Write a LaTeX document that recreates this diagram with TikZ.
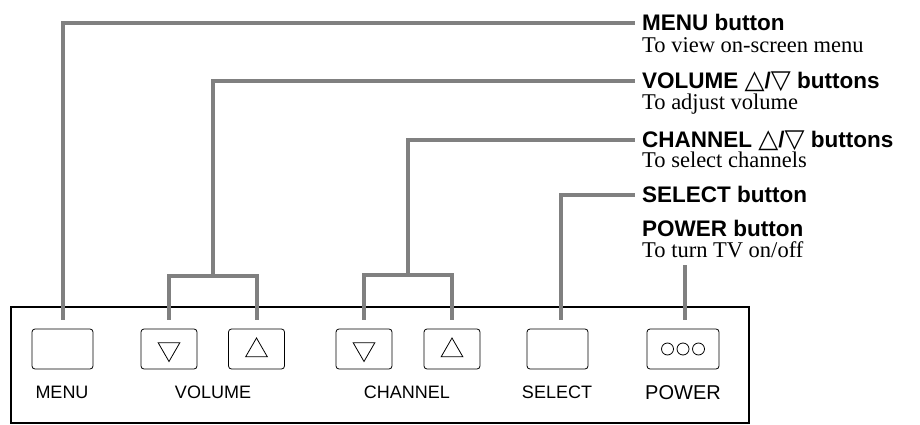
\documentclass[tikz,border=0pt]{standalone}
\usepackage{fontspec}
\setmainfont{Liberation Serif}
\setsansfont{Liberation Sans}
\newfontfamily\trifont{DejaVu Sans}
\usetikzlibrary{shapes.geometric}
\definecolor{Lc}{RGB}{128, 128, 128}

\begin{document}
\begin{tikzpicture}[x=1pt, y=-1pt,
    btn/.style={draw, line width=0.8pt, rounded corners=3pt, minimum height=40pt, inner sep=0pt},
    tri/.style={draw, line width=0.8pt, regular polygon, regular polygon sides=3, minimum size=25pt, inner sep=0pt},
    dot/.style={draw, line width=0.8pt, circle, minimum size=12pt, inner sep=0pt},
    lead/.style={draw=Lc, line width=4pt},
    tolabel/.style={lead, shorten >=7pt},
    title/.style={font=\sffamily\bfseries\fontsize{22.5}{26}\selectfont, anchor=west, inner sep=0pt, text height=15pt, text depth=0pt},
    note/.style={font=\fontsize{22.5}{26}\selectfont, anchor=base west, inner sep=0pt},
    btncap/.style={font=\sffamily\fontsize{18}{20}\selectfont, anchor=base}]
  \useasboundingbox (0,0) rectangle (920,425);
  \def\trisym#1{{\trifont\fontsize{26}{26}\selectfont#1}}

  % Front panel
  \draw[line width=1.5pt] (11,307) rectangle (749,423);

  % Buttons
  \foreach \n/\x/\w in {menu/62.5/61pt, vdn/169/56pt, vup/256.5/56pt, cdn/364/56pt,
                        cup/452/56pt, sel/557.5/61pt, pwr/683/72pt}{
    \node[btn, minimum width=\w] (\n) at (\x,349) {};
  }
  \node[tri, shape border rotate=180] (vdnT) at (vdn.center) {};
  \node[tri, yshift=-1.5pt] (vupT) at (vup.center) {};
  \node[tri, shape border rotate=180] (cdnT) at (cdn.center) {};
  \node[tri, yshift=-1.5pt] (cupT) at (cup.center) {};
  \foreach \k in {-1,0,1}{
    \node[dot] (pd\k) at ([xshift=\k*15.5pt]pwr.center) {};
  }

  % Captions
  \node[btncap] (menuL) at (62,398) {MENU};
  \node[btncap] (volL) at (213,398) {VOLUME};
  \node[btncap] (chL) at (407,398) {CHANNEL};
  \node[btncap] (selL) at (557,398) {SELECT};
  \node[btncap, font=\sffamily\fontsize{20}{22}\selectfont] (pwrL) at (683,399) {POWER};

  % Labels
  \node[title] (menuT) at (642,23) {MENU button};
  \node[note] (menuN) at ([yshift=-22pt]menuT.base west) {To view on-screen menu};
  \node[title] (volT) at (642,81) {VOLUME \trisym{△}/\trisym{▽} buttons};
  \node[note] (volN) at ([yshift=-21pt]volT.base west) {To adjust volume};
  \node[title] (chT) at (642,140) {CHANNEL \trisym{△}/\trisym{▽} buttons};
  \node[note] (chN) at ([yshift=-20pt]chT.base west) {To select channels};
  \node[title] (selT) at (642,195) {SELECT button};
  \node[title] (pwrT) at (642,228.5) {POWER button};
  \node[note] (pwrN) at ([yshift=-21pt]pwrT.base west) {To turn TV on/off};
  \coordinate (ptop) at (685,265);

  % Leads
  \draw[tolabel] ([yshift=9pt]menu.north) |- (menuT.west);
  \draw[lead] ([yshift=9pt]vdn.north) -- ++(0,-44) -| coordinate[pos=0.25] (vmid) ([yshift=9pt]vup.north);
  \draw[tolabel] (vmid) |- (volT.west);
  \draw[lead] ([yshift=9pt]cdn.north) -- ++(0,-45) -| coordinate[pos=0.25] (cmid) ([yshift=9pt]cup.north);
  \draw[tolabel] (cmid) |- (chT.west);
  \draw[tolabel] ([xshift=3pt, yshift=9pt]sel.north) |- (selT.west);
  \draw[lead] ([xshift=2pt, yshift=9pt]pwr.north) -- (ptop);
\end{tikzpicture}
\end{document}
